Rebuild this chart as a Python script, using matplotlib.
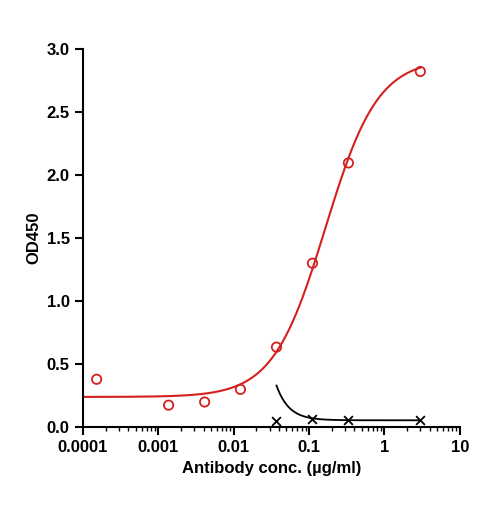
import numpy as np
import matplotlib.pyplot as plt
from matplotlib.ticker import LogLocator

conc = [0.000152, 0.00137, 0.00412, 0.0123, 0.037, 0.111, 0.333, 3.0]
od_red = [0.38, 0.175, 0.20, 0.30, 0.635, 1.30, 2.095, 2.82]
conc_ctrl = [0.037, 0.111, 0.333, 3.0]
od_ctrl = [0.05, 0.065, 0.055, 0.055]
xticks = [0.0001, 0.001, 0.01, 0.1, 1, 10]
xlabels = ["0.0001", "0.001", "0.01", "0.1", "1", "10"]

# fitted curve parameters
bottom, top, ec50, hill = 0.24, 2.92, 0.165, 1.25
c_bottom, c_amp, c_x0, c_n = 0.055, 0.275, 0.037, 2.6

plt.rcParams['font.family'] = ['Liberation Sans', 'DejaVu Sans']
fig = plt.figure(figsize=(4.85, 5.08), dpi=100)
ax = fig.add_axes([0.171, 0.159, 0.777, 0.745])

xf = np.logspace(-4, np.log10(3), 300)
ax.plot(xf, bottom + (top - bottom) / (1 + (ec50 / xf) ** hill), color='#d62020', lw=1.5)
ax.scatter(conc, od_red, s=45, facecolors='none', edgecolors='#d62020', linewidths=1.3, zorder=3)
xc = np.logspace(np.log10(0.037), np.log10(3), 200)
ax.plot(xc, c_bottom + c_amp * (xc / c_x0) ** (-c_n), color='black', lw=1.3)
ax.scatter(conc_ctrl, od_ctrl, marker='x', s=40, color='black', linewidths=1.3, zorder=3)

ax.set_xscale('log')
ax.set_xlim(0.0001, 10)
ax.set_ylim(0, 3.0)
ax.set_xticks(xticks)
ax.set_xticklabels(xlabels)
ax.xaxis.set_minor_locator(LogLocator(base=10, subs=np.arange(2, 10), numticks=20))
ax.set_yticks(np.arange(0, 3.01, 0.5))
ax.set_yticklabels([f"{v:.1f}" for v in np.arange(0, 3.01, 0.5)])
for s in ['top', 'right']:
    ax.spines[s].set_visible(False)
for s in ['left', 'bottom']:
    ax.spines[s].set_linewidth(1.5)
ax.tick_params(which='major', width=1.5, length=6, labelsize=12)
ax.tick_params(which='minor', width=1.0, length=3)
for lab in ax.get_xticklabels() + ax.get_yticklabels():
    lab.set_fontweight('bold')
ax.set_xlabel("Antibody conc. (µg/ml)", fontsize=12, fontweight='bold')
ax.set_ylabel("OD450", fontsize=12, fontweight='bold')
fig.savefig('out.png', dpi=100)
